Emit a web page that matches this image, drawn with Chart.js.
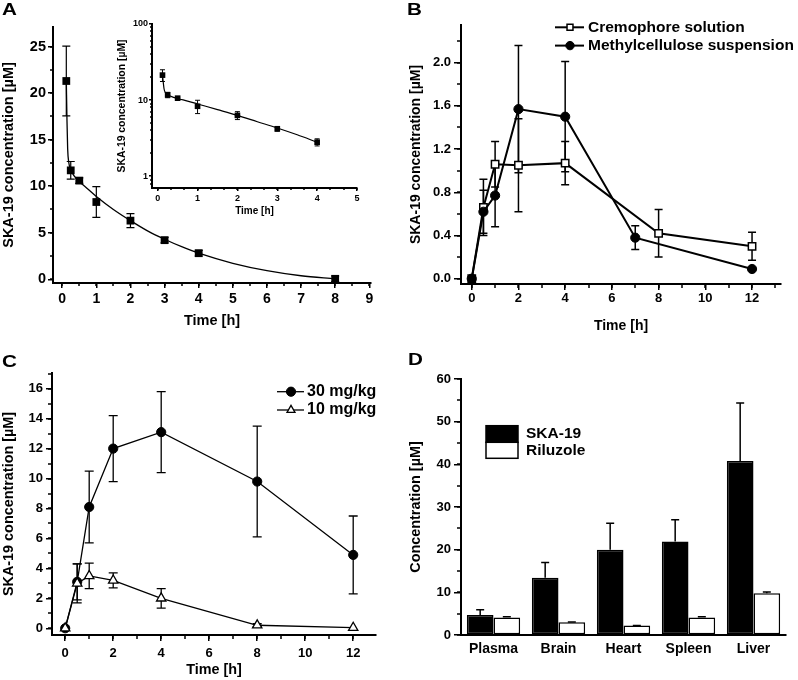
<!DOCTYPE html>
<html>
<head>
<meta charset="utf-8">
<script src="https://cdn.jsdelivr.net/npm/chart.js@4.4.1/dist/chart.umd.min.js"></script>
<style>
  body { margin: 0; background: #fff; width: 798px; height: 680px; position: relative; overflow: hidden; }
  canvas { position: absolute; left: 0; top: 0; }
  .tag { position: absolute; font-family: 'Liberation Sans', Arial, sans-serif; font-weight: bold; font-size: 16.5px; line-height: 1; transform: scaleX(1.25); transform-origin: left top; }
</style>
</head>
<body>
<canvas id="chartA" width="798" height="680"></canvas>
<canvas id="chartInset" width="798" height="680"></canvas>
<canvas id="chartB" width="798" height="680"></canvas>
<canvas id="chartC" width="798" height="680"></canvas>
<canvas id="chartD" width="798" height="680"></canvas>
<div class="tag" style="left:2px;top:1px">A</div>
<div class="tag" style="left:407px;top:1px">B</div>
<div class="tag" style="left:2px;top:353px">C</div>
<div class="tag" style="left:408px;top:351px">D</div>
<script>
// ---- data ----
// A: i.v. time course (main + log inset)
const timeA = [0.12, 0.25, 0.5, 1, 2, 3, 4, 8];
const concA = [21.3, 11.7, 10.6, 8.3, 6.3, 4.2, 2.8, 0.05];
const sdA = [3.75, 0.95, 0.3, 1.65, 0.75, 0.3, 0.3, 0.3];
// fitted curve
const fitTimeA = [0.12, 0.14, 0.16, 0.19, 0.25, 0.35, 0.5, 0.75, 1, 1.5, 2, 2.5, 3, 3.5, 4, 5, 6, 7, 8];
const fitConcA = [21.3, 17.0, 14.0, 12.6, 11.8, 11.1, 10.5, 9.7, 8.9, 7.5, 6.3, 5.2, 4.3, 3.5, 2.8, 1.72, 0.93, 0.38, 0.05];
const insetMaxTime = 4;
const insetTicks = [1, 10, 100];
const insetMinorTicks = [0.8, 0.9, 2, 3, 4, 5, 6, 7, 8, 9, 20, 30, 40, 50, 60, 70, 80, 90];

// B: oral formulations
const timeCremo = [0, 0.5, 1, 2, 4, 8, 12];
const concCremo = [0, 0.66, 1.06, 1.05, 1.07, 0.42, 0.30];
const sdCremo = [0, 0.26, 0.21, 0.43, 0.20, 0.22, 0.13];
const timeMethyl = [0, 0.5, 1, 2, 4, 7, 12];
const concMethyl = [0, 0.62, 0.77, 1.57, 1.50, 0.38, 0.09];
const sdMethyl = [0, 0.2, 0.29, 0.59, 0.51, 0.11, 0];

// C: dose comparison
const timeC = [0, 0.5, 1, 2, 4, 8, 12];
const conc30 = [0, 3.1, 8.1, 12.0, 13.1, 9.8, 4.9];
const sd30 = [0, 1.2, 2.4, 2.2, 2.7, 3.7, 2.6];
const conc10 = [0, 3.0, 3.5, 3.2, 2.0, 0.2, 0.04];
const sd10 = [0, 1.3, 0.85, 0.5, 0.65, 0.1, 0];

// D: tissue levels
const organs = ['Plasma', 'Brain', 'Heart', 'Spleen', 'Liver'];
const skaTissue = [4.7, 13.4, 20.0, 21.9, 40.8];
const skaTissueSd = [1.2, 3.6, 6.2, 5.1, 13.6];
const rilTissue = [4.1, 3.0, 2.2, 4.1, 9.8];
const rilTissueSd = [0.15, 0.05, 0.05, 0.15, 0.25];

// ---- setup ----
const FONT = "'Liberation Sans', Arial, Helvetica, sans-serif";
Chart.defaults.font.family = FONT;
Chart.defaults.font.weight = 'bold';
Chart.defaults.color = '#000';
Chart.defaults.animation = false;
Chart.defaults.events = [];
Chart.defaults.plugins.legend.display = false;
Chart.defaults.plugins.tooltip.enabled = false;

const pts = (xs, ys) => xs.map((x, i) => ({ x, y: ys[i] }));

// error bars from ds.sd, drawn under the markers
const errorBars = {
  id: 'errorBars',
  beforeDatasetsDraw(chart) {
    const ctx = chart.ctx;
    chart.data.datasets.forEach((ds, i) => {
      if (!ds.sd) return;
      const meta = chart.getDatasetMeta(i);
      const ys = chart.scales[meta.yAxisID];
      ctx.save();
      ctx.strokeStyle = '#000';
      ctx.lineWidth = ds.errWidth || 1.3;
      ctx.beginPath();
      meta.data.forEach((el, k) => {
        const sd = ds.sd[k];
        if (!sd) return;
        const d = ds.data[k];
        const v = typeof d === 'object' ? d.y : d;
        const x = el.x;
        const top = ys.getPixelForValue(v + sd);
        const bot = ds.upperOnly ? el.y : ys.getPixelForValue(Math.max(v - sd, ys.min));
        const c = ds.cap || 4;
        ctx.moveTo(x, top); ctx.lineTo(x, bot);
        ctx.moveTo(x - c, top); ctx.lineTo(x + c, top);
        if (!ds.upperOnly) { ctx.moveTo(x - c, bot); ctx.lineTo(x + c, bot); }
      });
      ctx.stroke();
      ctx.restore();
    });
  }
};

// short unlabelled ticks between the major ones
const minorTicks = {
  id: 'minorTicks',
  afterDraw(chart, args, opts) {
    const ctx = chart.ctx;
    const len = opts.len || 3.5;
    const mark = (s, v) => {
      const p = Math.round(s.getPixelForValue(v));
      if (s.isHorizontal()) { ctx.moveTo(p, s.top); ctx.lineTo(p, s.top + len); }
      else { ctx.moveTo(s.right - len, p); ctx.lineTo(s.right, p); }
    };
    ctx.save();
    ctx.strokeStyle = '#000';
    ctx.lineWidth = 1.5;
    ctx.beginPath();
    Object.keys(opts.steps || {}).forEach(id => {
      const s = chart.scales[id];
      const step = opts.steps[id];
      for (let v = Math.ceil(s.min / step - 1e-6) * step; v <= s.max + 1e-9; v += step) mark(s, v);
    });
    Object.keys(opts.values || {}).forEach(id => {
      const s = chart.scales[id];
      opts.values[id].forEach(v => mark(s, v));
    });
    ctx.stroke();
    ctx.restore();
  }
};

// legend placed inside the plot like in the figure
const key = {
  id: 'key',
  afterDraw(chart, args, opts) {
    if (!opts.rows) return;
    const ctx = chart.ctx;
    ctx.save();
    opts.rows.forEach(r => {
      const ds = chart.data.datasets[r.ds];
      if (opts.kind === 'box') {
        ctx.fillStyle = ds.backgroundColor;
        ctx.fillRect(opts.x0, r.y0, opts.x1 - opts.x0, r.y1 - r.y0);
        ctx.strokeStyle = '#000';
        ctx.lineWidth = 1.5;
        ctx.strokeRect(opts.x0, r.y0, opts.x1 - opts.x0, r.y1 - r.y0);
      } else {
        ctx.strokeStyle = '#000';
        ctx.lineWidth = ds.borderWidth;
        ctx.beginPath();
        ctx.moveTo(opts.x0, r.y); ctx.lineTo(opts.x1, r.y);
        ctx.stroke();
        ctx.fillStyle = ds.pointBackgroundColor;
        ctx.strokeStyle = '#000';
        ctx.lineWidth = ds.pointBorderWidth;
        Chart.helpers.drawPoint(ctx, { pointStyle: ds.pointStyle, rotation: 0, radius: opts.radius, borderWidth: ds.pointBorderWidth }, opts.xm, r.y);
      }
      ctx.fillStyle = '#000';
      ctx.font = 'bold ' + opts.size + 'px ' + FONT;
      ctx.textBaseline = 'middle';
      ctx.fillText(r.text, opts.tx, r.y !== undefined ? r.y : (r.y0 + r.y1) / 2);
    });
    ctx.restore();
  }
};

function axis(o) {
  const a = {
    type: o.type || 'linear',
    min: o.min,
    max: o.max,
    afterFit: s => { if (s.isHorizontal()) s.height = o.fit; else s.width = o.fit; },
    border: { display: true, color: '#000', width: 2 },
    grid: { display: o.tick !== 0, drawOnChartArea: false, drawTicks: o.tick !== 0, tickLength: o.tick || 6, lineWidth: 1.5, color: '#000' },
    ticks: { includeBounds: false, autoSkip: false, maxRotation: 0, padding: o.pad, font: { size: o.size }, color: '#000' },
    title: { display: !!o.title, text: o.title, font: { size: o.titleSize }, padding: 0, color: '#000' }
  };
  if (o.step) a.ticks.stepSize = o.step;
  if (o.fmt) a.ticks.callback = o.fmt;
  if (o.afterBuildTicks) a.afterBuildTicks = o.afterBuildTicks;
  return a;
}

const plugins = [errorBars, minorTicks, key];
const yLabel = 'SKA-19 concentration [µM]';

// ---- A main ----
new Chart(document.getElementById('chartA'), {
  type: 'line',
  plugins,
  data: {
    datasets: [
      { data: pts(timeA, concA), sd: sdA, cap: 4, errWidth: 1.2, showLine: false, pointStyle: 'rect', pointRadius: 5.5, pointBackgroundColor: '#000', pointBorderColor: '#000', pointBorderWidth: 0 },
      { data: pts(fitTimeA, fitConcA), borderColor: '#000', borderWidth: 1.3, pointRadius: 0, cubicInterpolationMode: 'monotone' }
    ]
  },
  options: {
    responsive: false, devicePixelRatio: 1,
    layout: { padding: { left: 0.5, top: 27, right: 427, bottom: 350.3 } },
    scales: {
      x: axis({ min: -0.27, max: 9.05, step: 1, fit: 46.7, tick: 5, pad: 3, size: 14, title: 'Time [h]', titleSize: 14.5 }),
      y: axis({ min: -0.4, max: 27.1, step: 5, fit: 52.5, tick: 5, pad: 2, size: 14.5, title: yLabel, titleSize: 14.5 })
    },
    plugins: { minorTicks: { steps: { x: 0.5, y: 2.5 }, len: 3 } }
  }
});

// ---- A inset (log) ----
const insetIdx = timeA.map((t, i) => i).filter(i => timeA[i] <= insetMaxTime);
const fitIdx = fitTimeA.map((t, i) => i).filter(i => fitTimeA[i] <= insetMaxTime);
new Chart(document.getElementById('chartInset'), {
  type: 'line',
  plugins,
  data: {
    datasets: [
      { data: insetIdx.map(i => ({ x: timeA[i], y: concA[i] })), sd: insetIdx.map(i => sdA[i]), cap: 2.5, errWidth: 1, showLine: false, pointStyle: 'rect', pointRadius: 4, pointBackgroundColor: '#000', pointBorderColor: '#000', pointBorderWidth: 0 },
      { data: fitIdx.map(i => ({ x: fitTimeA[i], y: fitConcA[i] })), borderColor: '#000', borderWidth: 1.2, pointRadius: 0, cubicInterpolationMode: 'monotone' }
    ]
  },
  options: {
    responsive: false, devicePixelRatio: 1,
    layout: { padding: { left: 115.5, top: 24, right: 441, bottom: 462.3 } },
    scales: {
      x: axis({ min: -0.143, max: 5, step: 1, fit: 29.7, tick: 3, pad: 2, size: 9, title: 'Time [h]', titleSize: 10 }),
      y: axis({ type: 'logarithmic', min: 0.711, max: 100, fit: 36.5, tick: 3, pad: 1, size: 9, title: yLabel, titleSize: 10.4,
        fmt: v => String(v), afterBuildTicks: s => { s.ticks = insetTicks.map(value => ({ value })); } })
    },
    plugins: { minorTicks: { steps: { x: 1 / 3 }, values: { y: insetMinorTicks }, len: 2 } }
  }
});

// ---- B ----
new Chart(document.getElementById('chartB'), {
  type: 'line',
  plugins,
  data: {
    datasets: [
      { data: pts(timeMethyl, concMethyl), sd: sdMethyl, cap: 4, errWidth: 1.5, borderColor: '#000', borderWidth: 2, pointStyle: 'circle', pointRadius: 4.6, pointBackgroundColor: '#000', pointBorderColor: '#000', pointBorderWidth: 1 },
      { data: pts(timeCremo, concCremo), sd: sdCremo, cap: 4, errWidth: 1.5, borderColor: '#000', borderWidth: 2, pointStyle: 'rect', pointRadius: 5.2, pointBackgroundColor: '#fff', pointBorderColor: '#000', pointBorderWidth: 1.5 }
    ]
  },
  options: {
    responsive: false, devicePixelRatio: 1,
    layout: { padding: { left: 407.4, top: 25, right: 17, bottom: 345.6 } },
    scales: {
      x: axis({ min: -0.46, max: 13.24, step: 2, fit: 50.4, tick: 6, pad: 1, size: 13, title: 'Time [h]', titleSize: 14 }),
      y: axis({ min: -0.049, max: 2.349, step: 0.4, fit: 53.6, tick: 7, pad: 3, size: 13, title: yLabel, titleSize: 14, fmt: v => v.toFixed(1) })
    },
    plugins: {
      minorTicks: { steps: { x: 1, y: 0.2 }, len: 4 },
      key: { x0: 555, x1: 584, xm: 570, tx: 588, size: 15.5, radius: 4.2, rows: [
        { ds: 1, y: 27.3, text: 'Cremophore solution' },
        { ds: 0, y: 45.6, text: 'Methylcellulose suspension' }
      ] }
    }
  }
});

// ---- C ----
new Chart(document.getElementById('chartC'), {
  type: 'line',
  plugins,
  data: {
    datasets: [
      { data: pts(timeC, conc10), sd: sd10, cap: 4.5, errWidth: 1.3, borderColor: '#000', borderWidth: 1.3, pointStyle: 'triangle', pointRadius: 5.4, pointBackgroundColor: '#fff', pointBorderColor: '#000', pointBorderWidth: 1.3 },
      { data: pts(timeC, conc30), sd: sd30, cap: 4.5, errWidth: 1.3, borderColor: '#000', borderWidth: 1.3, pointStyle: 'circle', pointRadius: 4.6, pointBackgroundColor: '#000', pointBorderColor: '#000', pointBorderWidth: 1 }
    ]
  },
  options: {
    responsive: false, devicePixelRatio: 1,
    layout: { padding: { left: 0, top: 373, right: 422, bottom: 1.4 } },
    scales: {
      x: axis({ min: -0.55, max: 12.95, step: 2, fit: 43.6, tick: 6, pad: 5, size: 13, title: 'Time [h]', titleSize: 14.4 }),
      y: axis({ min: -0.45, max: 17.05, step: 2, fit: 52, tick: 6, pad: 3, size: 13, title: yLabel, titleSize: 14.4 })
    },
    plugins: {
      minorTicks: { steps: { x: 1, y: 1 }, len: 4 },
      key: { x0: 277, x1: 304, xm: 291, tx: 307, size: 16, radius: 4.6, rows: [
        { ds: 1, y: 391.7, text: '30 mg/kg' },
        { ds: 0, y: 410, text: '10 mg/kg' }
      ] }
    }
  }
});

// ---- D ----
new Chart(document.getElementById('chartD'), {
  type: 'bar',
  plugins,
  data: {
    labels: organs,
    datasets: [
      { data: skaTissue, sd: skaTissueSd, upperOnly: true, cap: 4, errWidth: 1.5, backgroundColor: '#000', borderColor: '#000', borderWidth: 1.5, borderSkipped: false },
      { data: rilTissue, sd: rilTissueSd, upperOnly: true, cap: 4, errWidth: 1.5, backgroundColor: '#fff', borderColor: '#000', borderWidth: 1.5, borderSkipped: false }
    ]
  },
  options: {
    responsive: false, devicePixelRatio: 1,
    layout: { padding: { left: 407.7, top: 379, right: 12, bottom: 15 } },
    datasets: { bar: { categoryPercentage: 0.82, barPercentage: 1 } },
    scales: {
      x: axis({ type: 'category', fit: 30, tick: 0, pad: 6, size: 14 }),
      y: axis({ min: 0, max: 60, step: 10, fit: 53.3, tick: 7, pad: 3, size: 13, title: 'Concentration [µM]', titleSize: 14.4 })
    },
    plugins: {
      minorTicks: { steps: { y: 5 }, len: 4 },
      key: { kind: 'box', x0: 486, x1: 518, tx: 526, size: 15.5, rows: [
        { ds: 0, y0: 425.7, y1: 442.3, text: 'SKA-19' },
        { ds: 1, y0: 442.3, y1: 458.3, text: 'Riluzole' }
      ] }
    }
  }
});
</script>
</body>
</html>
